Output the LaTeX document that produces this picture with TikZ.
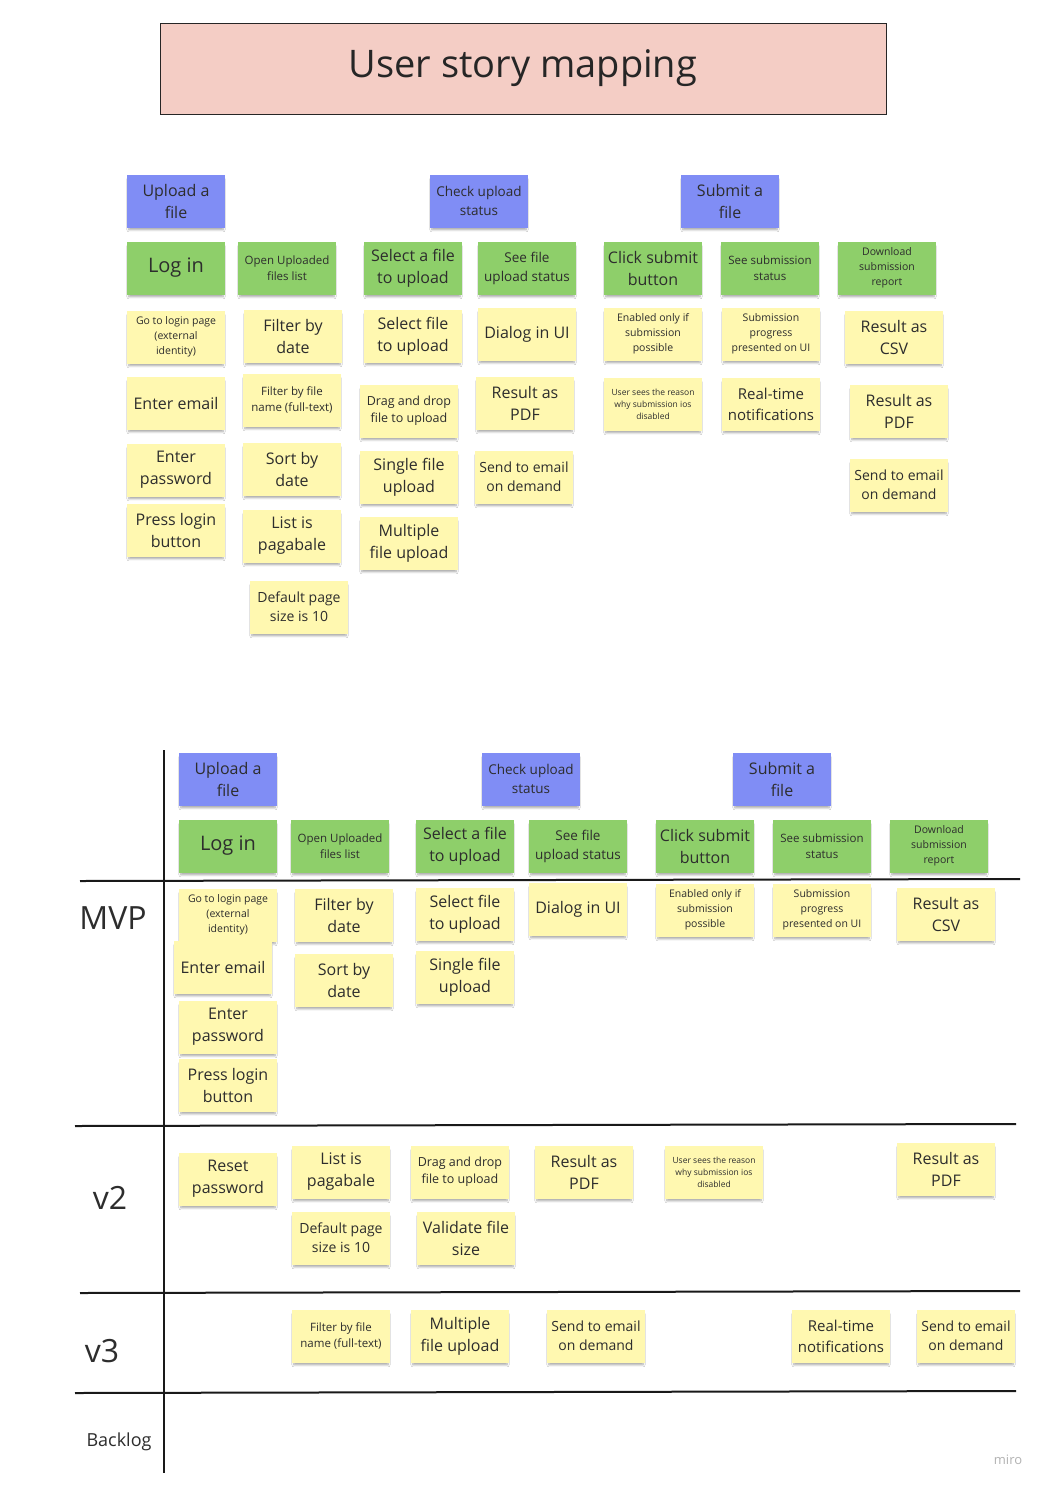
\documentclass[tikz,border=0pt]{standalone}
\usepackage{fontspec}
\setmainfont{Open Sans}
\usetikzlibrary{shadows.blur}

\definecolor{epicblue}{RGB}{128,141,245}
\definecolor{storygreen}{RGB}{142,207,106}
\definecolor{taskyellow}{RGB}{255,248,176}
\definecolor{titlepink}{RGB}{244,205,197}
\definecolor{ink}{RGB}{45,45,45}

\tikzset{
	note/.style={align=center, minimum width=98pt, minimum height=53pt, inner sep=2pt, text=ink,
		blur shadow={shadow xshift=0pt, shadow yshift=-3.5pt, shadow scale=0.96, shadow opacity=35, shadow blur steps=6}},
	epic/.style={note, fill=epicblue},
	story/.style={note, fill=storygreen},
	task/.style={note, fill=taskyellow},
	hugetxt/.style={font=\fontsize{20}{24}\selectfont},
	bigtxt/.style={font=\fontsize{16}{22}\selectfont},
	rtxt/.style={font=\fontsize{15}{21}\selectfont},
	midtxt/.style={font=\fontsize{14}{19}\selectfont},
	medtxt/.style={font=\fontsize{13.5}{19}\selectfont},
	dragtxt/.style={font=\fontsize{12.5}{17}\selectfont},
	smalltxt/.style={font=\fontsize{11.5}{16}\selectfont},
	minitxt/.style={font=\fontsize{10.5}{15}\selectfont},
	microtxt/.style={font=\fontsize{8.5}{12}\selectfont},
	lane/.style={line width=2pt, draw=black!90},
	lanetxt/.style={font=\fontsize{32}{36}\selectfont, text=ink}
}

\begin{document}
\begin{tikzpicture}[x=1pt, y=-1pt]
	\useasboundingbox[fill=white] (0,0) rectangle (1049,1489);

	% title
	\node[draw=black!85, fill=titlepink, minimum width=726pt, minimum height=91pt,
		font=\fontsize{38}{44}\selectfont, text=black!85] (title) at (523,68.5) {User story mapping};

	% ---- story map ----
	\node[epic, bigtxt] (upA) at (176,201) {Upload a\\file};
	\node[epic, medtxt] (chkA) at (479,201) {Check upload\\status};
	\node[epic, bigtxt] (subA) at (730,201) {Submit a\\file};

	\node[story, hugetxt] (loginA) at (176,268) {Log in};
	\node[story, smalltxt] (listA) at (287,268) {Open Uploaded\\files list};
	\node[story, bigtxt] (selA) at (413,268) {Select a file\\to upload};
	\node[story, medtxt] (seeA) at (527,268) {See file\\upload status};
	\node[story, bigtxt] (clickA) at (653,268) {Click submit\\button};
	\node[story, smalltxt] (ssA) at (770,268) {See submission\\status};
	\node[story, minitxt] (dlA) at (887,268) {Download\\submission\\report};

	\node[task, minitxt] (gotoA) at (176,337) {Go to login page\\(external\\identity)};
	\node[task, bigtxt] (emailA) at (176,403) {Enter email};
	\node[task, bigtxt] (pwdA) at (176,470) {Enter\\password};
	\node[task, bigtxt] (pressA) at (176,530) {Press login\\button};

	\node[task, bigtxt] (fdateA) at (293,336) {Filter by\\date};
	\node[task, smalltxt] (fnameA) at (292,400) {Filter by file\\name (full-text)};
	\node[task, bigtxt] (sortA) at (292,469) {Sort by\\date};
	\node[task, bigtxt] (pageA) at (292,536) {List is\\pagabale};
	\node[task, midtxt] (sizeA) at (299,607) {Default page\\size is 10};

	\node[task, bigtxt] (pickA) at (413,336) {Select file\\to upload};
	\node[task, dragtxt] (dragA) at (409,411) {Drag and drop\\file to upload};
	\node[task, bigtxt] (singleA) at (409,477) {Single file\\upload};
	\node[task, bigtxt] (multiA) at (409,543) {Multiple\\file upload};

	\node[task, bigtxt] (dlgA) at (527,334) {Dialog in UI};
	\node[task, bigtxt] (pdfA) at (525,403) {Result as\\PDF};
	\node[task, midtxt] (mailA) at (524,477) {Send to email\\on demand};

	\node[task, minitxt] (enA) at (653,334) {Enabled only if\\submission\\possible};
	\node[task, microtxt] (whyA) at (653,404) {User sees the reason\\why submission ios\\disabled};

	\node[task, minitxt] (progA) at (771,334) {Submission\\progress\\presented on UI};
	\node[task, rtxt] (rtA) at (771,404) {Real-time\\notifications};

	\node[task, bigtxt] (csvA) at (894,337) {Result as\\CSV};
	\node[task, bigtxt] (pdfB) at (899,411) {Result as\\PDF};
	\node[task, midtxt] (mailB) at (899,485) {Send to email\\on demand};

	% ---- release plan ----
	\draw[lane] (164,750) -- (164,1473);
	\draw[lane] (80,881) -- (1020,879);
	\draw[lane] (75,1126) -- (1016,1124);
	\draw[lane] (80,1293) -- (1020,1291);
	\draw[lane] (75,1393) -- (1016,1391);

	\node[lanetxt] (mvp) at (113,918) {MVP};
	\node[lanetxt] (v2) at (110,1198) {v2};
	\node[lanetxt] (v3) at (102,1351) {v3};
	\node[font=\fontsize{18}{22}\selectfont, text=ink] (backlog) at (119,1442) {Backlog};

	\node[epic, bigtxt] (upB) at (228,779) {Upload a\\file};
	\node[epic, medtxt] (chkB) at (531,779) {Check upload\\status};
	\node[epic, bigtxt] (subB) at (782,779) {Submit a\\file};

	\node[story, hugetxt] (loginB) at (228,846) {Log in};
	\node[story, smalltxt] (listB) at (340,846) {Open Uploaded\\files list};
	\node[story, bigtxt] (selB) at (465,846) {Select a file\\to upload};
	\node[story, medtxt] (seeB) at (578,846) {See file\\upload status};
	\node[story, bigtxt] (clickB) at (705,846) {Click submit\\button};
	\node[story, smalltxt] (ssB) at (822,846) {See submission\\status};
	\node[story, minitxt] (dlB) at (939,846) {Download\\submission\\report};

	% MVP
	\node[task, minitxt] (gotoB) at (228,915) {Go to login page\\(external\\identity)};
	\node[task, bigtxt] (emailB) at (223,967) {Enter email};
	\node[task, bigtxt] (pwdB) at (228,1027) {Enter\\password};
	\node[task, bigtxt] (pressB) at (228,1085) {Press login\\button};
	\node[task, bigtxt] (fdateB) at (344,915) {Filter by\\date};
	\node[task, bigtxt] (sortB) at (344,980) {Sort by\\date};
	\node[task, bigtxt] (pickB) at (465,914) {Select file\\to upload};
	\node[task, bigtxt] (singleB) at (465,977) {Single file\\upload};
	\node[task, bigtxt] (dlgB) at (578,909) {Dialog in UI};
	\node[task, minitxt] (enB) at (705,910) {Enabled only if\\submission\\possible};
	\node[task, minitxt] (progB) at (822,910) {Submission\\progress\\presented on UI};
	\node[task, bigtxt] (csvB) at (946,914) {Result as\\CSV};

	% v2
	\node[task, bigtxt] (resetB) at (228,1179) {Reset\\password};
	\node[task, bigtxt] (pageB) at (341,1172) {List is\\pagabale};
	\node[task, midtxt] (sizeB) at (341,1238) {Default page\\size is 10};
	\node[task, dragtxt] (dragB) at (460,1172) {Drag and drop\\file to upload};
	\node[task, bigtxt] (valB) at (466,1238) {Validate file\\size};
	\node[task, bigtxt] (pdfC) at (584,1172) {Result as\\PDF};
	\node[task, microtxt] (whyB) at (714,1172) {User sees the reason\\why submission ios\\disabled};
	\node[task, bigtxt] (pdfD) at (946,1169) {Result as\\PDF};

	% v3
	\node[task, smalltxt] (fnameB) at (341,1336) {Filter by file\\name (full-text)};
	\node[task, bigtxt] (multiB) at (460,1336) {Multiple\\file upload};
	\node[task, midtxt] (mailC) at (596,1336) {Send to email\\on demand};
	\node[task, rtxt] (rtB) at (841,1336) {Real-time\\notifications};
	\node[task, midtxt] (mailD) at (966,1336) {Send to email\\on demand};

	\node[font=\fontsize{13}{15}\selectfont, text=black!30] (miro) at (1008,1460) {miro};
\end{tikzpicture}
\end{document}
